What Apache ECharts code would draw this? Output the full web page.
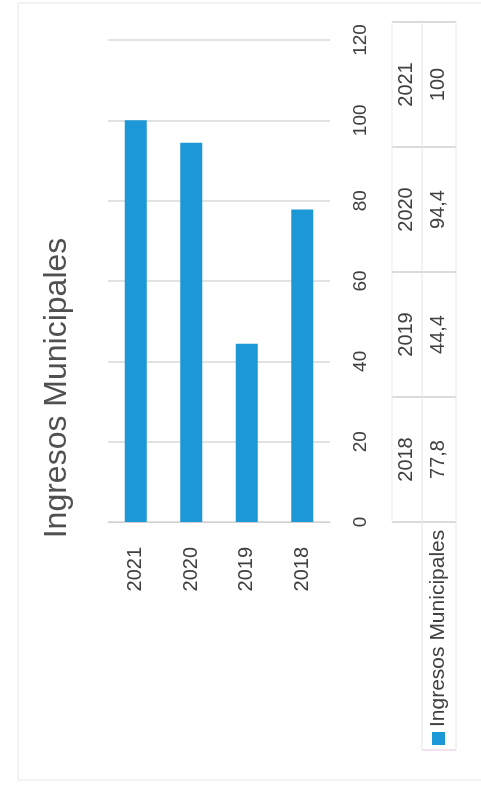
<!DOCTYPE html>
<html>
<head>
<meta charset="utf-8">
<style>
html,body{margin:0;padding:0;background:#fff;}
#c{width:481px;height:797px;}
</style>
<script src="https://cdn.jsdelivr.net/npm/echarts@6/dist/echarts.min.js"></script>
</head>
<body>
<div id="c"></div>
<script>
var titleText = 'Ingresos Municipales';
var seriesName = 'Ingresos Municipales';
var categories = ['2021', '2020', '2019', '2018'];
var values = [100, 94.4, 44.4, 77.8];
var tableYears = ['2021', '2020', '2019', '2018'];
var tableValues = ['100', '94,4', '44,4', '77,8'];

var FONT = '"Liberation Sans", Arial, sans-serif';
var BLUE = '#1B98D5';
var chart = echarts.init(document.getElementById('c'), null, {renderer: 'canvas'});

var graphics = [];
// outer frame
graphics.push({type: 'rect', shape: {x: 18, y: 3, width: 475, height: 777},
  style: {fill: 'none', stroke: '#e6e6e6', lineWidth: 1}, silent: true});
// title
graphics.push({type: 'text', x: 57, y: 388, rotation: Math.PI / 2,
  style: {text: titleText, font: '32px ' + FONT, fill: '#505050', align: 'center', verticalAlign: 'middle'}});

// data table
var tTop = 22, cellH = 125, xL = 392, xM = 422, xR = 456;
for (var i = 0; i < tableYears.length; i++) {
  var y0 = tTop + i * cellH;
  graphics.push({type: 'line', shape: {x1: xL, y1: y0, x2: xR, y2: y0}, style: {stroke: '#cfcfcf', lineWidth: 1.5}});
  graphics.push({type: 'text', x: 406, y: y0 + cellH / 2, rotation: Math.PI / 2,
    style: {text: tableYears[i], font: '20px ' + FONT, fill: '#404040', align: 'center', verticalAlign: 'middle'}});
  graphics.push({type: 'text', x: 438, y: y0 + cellH / 2, rotation: Math.PI / 2,
    style: {text: tableValues[i], font: '20px ' + FONT, fill: '#404040', align: 'center', verticalAlign: 'middle'}});
}
var tBot = tTop + tableYears.length * cellH;
graphics.push({type: 'line', shape: {x1: xL, y1: tBot, x2: xR, y2: tBot}, style: {stroke: '#cfcfcf', lineWidth: 1.5}});
graphics.push({type: 'line', shape: {x1: xL, y1: tTop, x2: xL, y2: tBot}, style: {stroke: '#ececec', lineWidth: 1}});
graphics.push({type: 'line', shape: {x1: xM, y1: tTop, x2: xM, y2: 750}, style: {stroke: '#e6e6e6', lineWidth: 1}});
graphics.push({type: 'line', shape: {x1: xR, y1: tTop, x2: xR, y2: 750}, style: {stroke: '#e6e6e6', lineWidth: 1}});
graphics.push({type: 'line', shape: {x1: xM, y1: 750, x2: xR, y2: 750}, style: {stroke: '#f0d8e8', lineWidth: 1.5}});
// legend key in table
graphics.push({type: 'rect', shape: {x: 432, y: 732, width: 13, height: 13}, style: {fill: BLUE}});
graphics.push({type: 'text', x: 438, y: 727, rotation: Math.PI / 2,
  style: {text: seriesName, font: '21px ' + FONT, fill: '#404040', align: 'left', verticalAlign: 'middle'}});

chart.setOption({
  animation: false,
  backgroundColor: '#ffffff',
  grid: {left: 108, right: 151, top: 40, bottom: 275, containLabel: false},
  xAxis: {
    type: 'category', data: categories,
    axisLine: {show: true, lineStyle: {color: '#d0d0d0'}},
    axisTick: {show: false},
    axisLabel: {rotate: 90, margin: 25, fontSize: 20, fontFamily: FONT, color: '#404040'}
  },
  yAxis: {
    type: 'value', position: 'right', min: 0, max: 120, interval: 20,
    axisLine: {show: false}, axisTick: {show: false},
    splitLine: {lineStyle: {color: '#d9d9d9', width: 1.5}},
    axisLabel: {rotate: 90, margin: 21, fontSize: 19, fontFamily: FONT, color: '#404040'}
  },
  series: [{
    name: seriesName, type: 'bar', data: values, barWidth: 22,
    itemStyle: {color: BLUE}
  }],
  graphic: graphics
});
</script>
</body>
</html>
